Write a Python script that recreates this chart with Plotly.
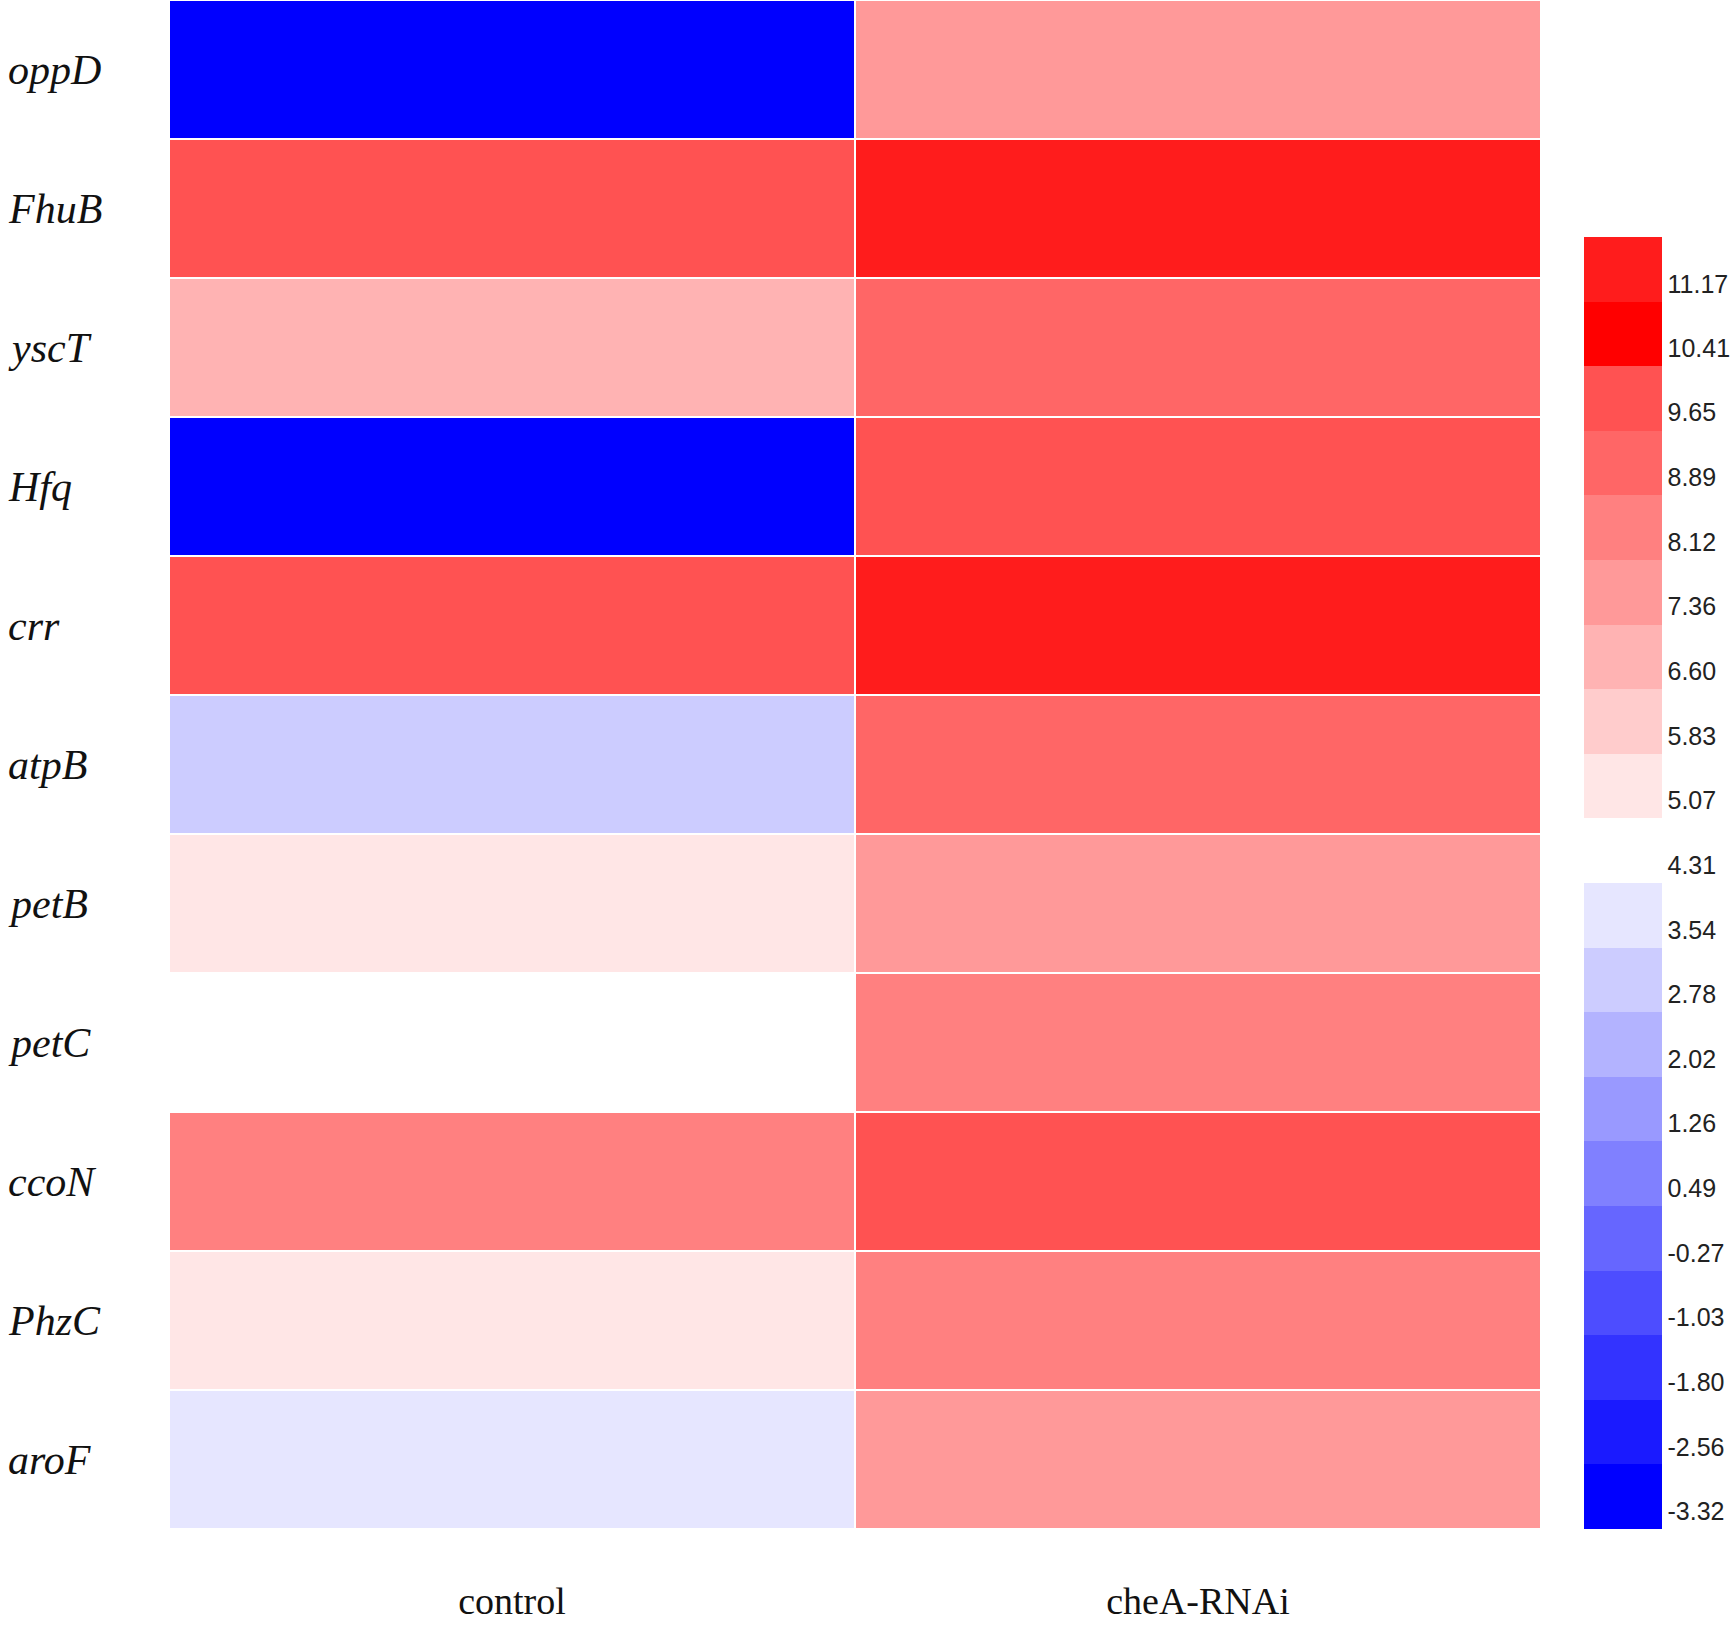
import plotly.graph_objects as go

# DATA
genes = ["oppD", "FhuB", "yscT", "Hfq", "crr", "atpB", "petB", "petC", "ccoN", "PhzC", "aroF"]
groups = ["control", "cheA-RNAi"]
control = [-3.0, 10.0, 7.0, -3.0, 10.0, 3.2, 5.4, 4.7, 8.5, 5.4, 3.9]
chea_rnai = [7.7, 11.5, 9.2, 10.0, 11.5, 9.2, 7.7, 8.5, 10.0, 8.5, 7.7]

tick_vals = [-3.32, -2.56, -1.80, -1.03, -0.27, 0.49, 1.26, 2.02, 2.78, 3.54,
             4.31, 5.07, 5.83, 6.60, 7.36, 8.12, 8.89, 9.65, 10.41, 11.17]
tick_text = ["-3.32", "-2.56", "-1.80", "-1.03", "-0.27", "0.49", "1.26", "2.02", "2.78", "3.54",
             "4.31", "5.07", "5.83", "6.60", "7.36", "8.12", "8.89", "9.65", "10.41", "11.17"]
z_max = 11.93

# one colour per band, bottom to top
band_colors = ["#0000FF", "#1A1AFF", "#3333FF", "#4D4DFF", "#6666FF", "#8080FF", "#9999FF",
               "#B3B3FF", "#CCCCFF", "#E6E6FF", "#FFFFFF", "#FFE6E6", "#FFCCCC", "#FFB3B3",
               "#FF9999", "#FF8080", "#FF6666", "#FF5252", "#FF0000", "#FF1C1C"]

# stepped colorscale
n = len(band_colors)
scale = []
for i, c in enumerate(band_colors):
    scale.append([i / n, c])
    scale.append([(i + 1) / n, c])

z = [[c, r] for c, r in zip(control, chea_rnai)]

W, H = 1732, 1630
ml, mr, mt, mb = 169, 191, 0, 101
pw = W - ml - mr
ph = H - mt - mb

fig = go.Figure(go.Heatmap(
    z=z,
    x=groups,
    y=genes,
    zmin=tick_vals[0],
    zmax=z_max,
    colorscale=scale,
    xgap=2,
    ygap=2,
    colorbar=dict(
        tickvals=tick_vals,
        ticktext=tick_text,
        ticks="",
        outlinewidth=0,
        thickness=78,
        thicknessmode="pixels",
        len=(ph - 237) / ph,
        lenmode="fraction",
        x=(1584 - ml) / pw,
        xanchor="left",
        xpad=0,
        y=0,
        yanchor="bottom",
        ypad=0,
        ticklabelposition="outside top",
        tickfont=dict(family="Liberation Sans", size=25, color="#222222"),
    ),
    hoverinfo="skip",
))

# row labels, left aligned in italics
for g in genes:
    fig.add_annotation(
        x=(6 - ml) / pw, xref="paper", xanchor="left",
        y=g, yref="y", yanchor="middle",
        text=f"<i>{g}</i>", showarrow=False,
        font=dict(family="Liberation Serif", size=42, color="#111111"),
    )

fig.update_xaxes(
    showgrid=False, zeroline=False, showline=False, ticks="",
    automargin=False,
    ticklabelstandoff=46,
    tickfont=dict(family="Liberation Serif", size=38, color="#111111"),
)
fig.update_yaxes(
    autorange="reversed", showgrid=False, zeroline=False, showline=False,
    showticklabels=False, ticks="", automargin=False,
)
fig.update_layout(
    width=W, height=H,
    margin=dict(l=ml, r=mr, t=mt, b=mb, autoexpand=False),
    paper_bgcolor="white",
    plot_bgcolor="white",
)

fig.write_html(
    "out.html",
    config={"displayModeBar": False},
    post_script="document.body.style.margin='0';",
)
